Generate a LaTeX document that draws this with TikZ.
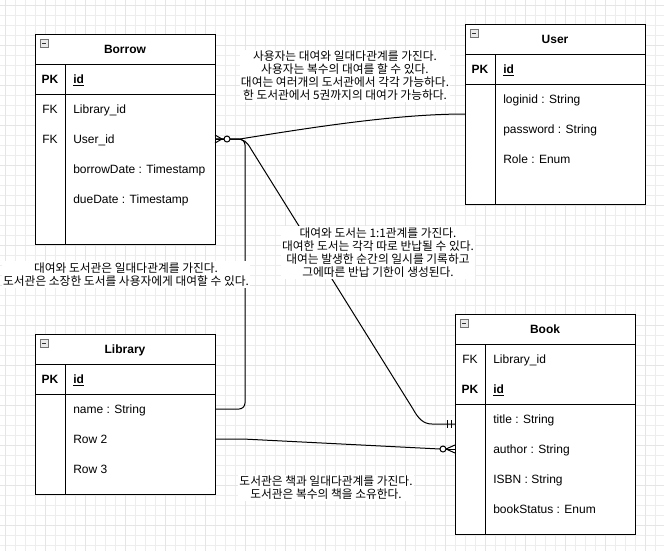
\documentclass[tikz,border=0pt]{standalone}
\usepackage{fontspec}
\setmainfont{Liberation Sans}
\newfontfamily\kr{Noto Sans CJK KR}
\begin{document}
\begin{tikzpicture}[x=0.75pt,y=-0.75pt]
\tikzset{
 frame/.style={draw=black, line width=0.75pt, fill=white, inner sep=0},
 rule/.style={draw=black, line width=0.75pt},
 ttl/.style={font=\bfseries\fontsize{9}{11}\selectfont, inner sep=0, anchor=base},
 fld/.style={font=\fontsize{9}{11}\selectfont, inner sep=0, anchor=base west},
 keyb/.style={font=\bfseries\fontsize{9}{11}\selectfont, inner sep=0, anchor=base},
 keyn/.style={font=\fontsize{9}{11}\selectfont, inner sep=0, anchor=base},
 note/.style={font=\kr\fontsize{8.8}{9.75}\selectfont, align=center, inner sep=1pt, fill=white},
 conn/.style={draw=black, line width=0.75pt},
 gminor/.style={draw=black!7, line width=0.6pt},
 gmajor/.style={draw=black!10, line width=0.6pt},
 mini/.style={draw=black!55, fill=black!8, line width=0.5pt, minimum size=6pt, inner sep=0},
 minus/.style={draw=black!80, line width=0.6pt}
}
\useasboundingbox (0,0) rectangle (664,551);
\fill[white] (0,0) rectangle (664,551);
% grid
\foreach \i in {5,15,...,655} \draw[gminor] (\i,0) -- (\i,551);
\foreach \j in {5,15,...,545} \draw[gminor] (0,\j) -- (664,\j);
\foreach \i in {5,45,...,645} \draw[gmajor] (\i,0) -- (\i,551);
\foreach \j in {5,45,...,545} \draw[gmajor] (0,\j) -- (664,\j);

% connector end points
\coordinate (bUs) at (215,139);
\coordinate (uLg) at (465,114);
\coordinate (lNm) at (215,409);
\coordinate (lR2) at (215,439);
\coordinate (bkT) at (455,424);
\coordinate (bkA) at (455,449);

% connectors
\draw[conn] (bUs) -- (240,139) .. controls (320,126) and (400,114) .. (uLg);
\draw[conn] (bUs) -- (236,139) .. controls (244,139) and (247,142) .. (251,149) -- (413,409) .. controls (418,418) and (423,424) .. (432,424) -- (bkT);
\draw[conn, rounded corners=4.5pt] (lNm) -- (245,409) -- (245,139) -- (bUs);
\draw[conn] (lR2) -- (243,439) -- (440,449);
\draw[conn] (446,449) -- (bkA);

% notes
\node[note] (n1) at (345,76) {사용자는 대여와 일대다관계를 가진다.\\사용자는 복수의 대여를 할 수 있다.\\대여는 여러개의 도서관에서 각각 가능하다.\\한 도서관에서 5권까지의 대여가 가능하다.};
\node[note] (n2) at (126,274.5) {대여와 도서관은 일대다관계를 가진다.\\도서관은 소장한 도서를 사용자에게 대여할 수 있다.};
\node[note] (n3) at (378,252.5) {대여와 도서는 1:1관계를 가진다.\\대여한 도서는 각각 따로 반납될 수 있다.\\대여는 발생한 순간의 일시를 기록하고\\그에따른 반납 기한이 생성된다.};
\node[note] (n4) at (326,488) {도서관은 책과 일대다관계를 가진다.\\도서관은 복수의 책을 소유한다.};

% Borrow table
\node[frame, minimum width=135pt, minimum height=157.5pt] (borrow) at (125,139) {};
\draw[rule] (35,64) -- (215,64) (35,94) -- (215,94) (65,64) -- (65,244);
\node[mini] (borrowIcon) at (44,43) {};
\draw[minus] (42,43) -- (46,43);
\node[ttl] (borrowTitle) at (125,53.5) {Borrow};
\node[keyb] (borrowPK) at (50,83.5) {PK};
\node[fld, font=\bfseries\fontsize{9}{11}\selectfont] (borrowId) at (73,83.5) {\underline{id}};
\node[keyn] (borrowFK1) at (50,113.5) {FK};
\node[fld] (borrowLib) at (73,113.5) {Library\_id};
\node[keyn] (borrowFK2) at (50,143.5) {FK};
\node[fld] (borrowUser) at (73,143.5) {User\_id};
\node[fld] (borrowDate) at (73,173.5) {borrowDate : Timestamp};
\node[fld] (borrowDue) at (73,203.5) {dueDate : Timestamp};

% User table
\node[frame, minimum width=135pt, minimum height=135pt] (user) at (555,114) {};
\draw[rule] (465,54) -- (645,54) (465,84) -- (645,84) (495,54) -- (495,204);
\node[mini] (userIcon) at (474,33) {};
\draw[minus] (472,33) -- (476,33);
\node[ttl] (userTitle) at (555,43.5) {User};
\node[keyb] (userPK) at (480,73.5) {PK};
\node[fld, font=\bfseries\fontsize{9}{11}\selectfont] (userId) at (503,73.5) {\underline{id}};
\node[fld] (userLogin) at (503,103.5) {loginid : String};
\node[fld] (userPw) at (503,133.5) {password : String};
\node[fld] (userRole) at (503,163.5) {Role : Enum};

% Library table
\node[frame, minimum width=135pt, minimum height=120pt] (library) at (125,414) {};
\draw[rule] (35,364) -- (215,364) (35,394) -- (215,394) (65,364) -- (65,494);
\node[mini] (libIcon) at (44,343) {};
\draw[minus] (42,343) -- (46,343);
\node[ttl] (libTitle) at (125,353.5) {Library};
\node[keyb] (libPK) at (50,383.5) {PK};
\node[fld, font=\bfseries\fontsize{9}{11}\selectfont] (libId) at (73,383.5) {\underline{id}};
\node[fld] (libName) at (73,413.5) {name : String};
\node[fld] (libRow2) at (73,443.5) {Row 2};
\node[fld] (libRow3) at (73,473.5) {Row 3};

% Book table
\node[frame, minimum width=135pt, minimum height=165pt] (book) at (545,424) {};
\draw[rule] (455,344) -- (635,344) (455,404) -- (635,404) (485,344) -- (485,534);
\node[mini] (bookIcon) at (464,323) {};
\draw[minus] (462,323) -- (466,323);
\node[ttl] (bookTitle) at (545,333.5) {Book};
\node[keyn] (bookFK) at (470,363.5) {FK};
\node[fld] (bookLib) at (493,363.5) {Library\_id};
\node[keyb] (bookPK) at (470,393.5) {PK};
\node[fld, font=\bfseries\fontsize{9}{11}\selectfont] (bookId) at (493,393.5) {\underline{id}};
\node[fld] (bookT) at (493,423.5) {title : String};
\node[fld] (bookA) at (493,453.5) {author : String};
\node[fld] (bookI) at (493,483.5) {ISBN : String};
\node[fld] (bookS) at (493,513.5) {bookStatus : Enum};

% markers
\draw[conn] (215,135) -- (222,139) -- (215,143);
\draw[conn] (215,139) -- (224,139);
\draw[conn, fill=white] (227,139) circle (2.25pt);
\draw[conn] (447,420) -- (447,428) (451,420) -- (451,428);
\draw[conn, fill=white] (443,449) circle (2.25pt);
\draw[conn] (455,445) -- (446,449) -- (455,453);
\end{tikzpicture}
\end{document}
